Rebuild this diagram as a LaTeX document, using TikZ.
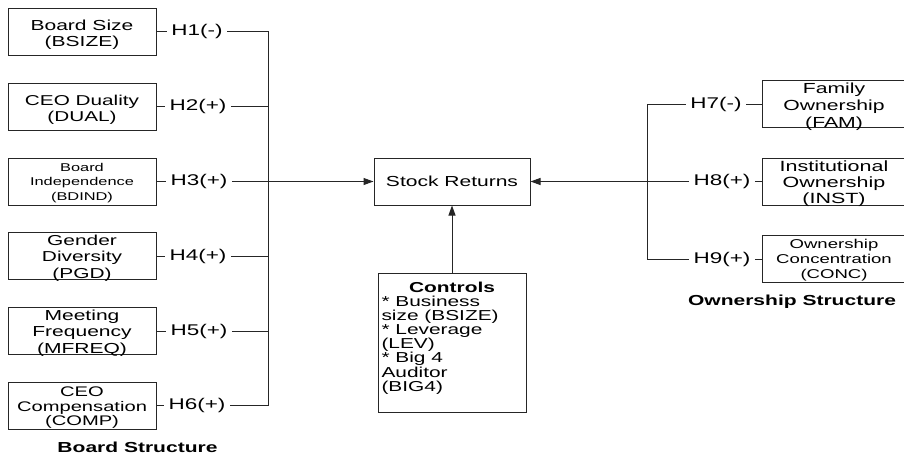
\documentclass[tikz,border=0pt]{standalone}
\usepackage{fontspec}
\setmainfont{Liberation Sans}[FakeStretch=1.45]
\usetikzlibrary{arrows.meta}
\newcommand{\myfs}[2]{\fontsize{#1}{#2}\selectfont}
\begin{document}
\begin{tikzpicture}[x=1pt,y=-1pt,
  line width=1pt,
  ln/.style={draw=black!85},
  bx/.style={draw=black!85, line width=1pt, inner sep=0pt, minimum height=47pt},
  lbox/.style={bx, minimum width=148pt},
  rbox/.style={bx, minimum width=144pt},
  btxt/.style={inner sep=0pt, align=center},
  hyp/.style={inner sep=0pt, inner xsep=4pt, font=\myfs{15.5}{16}},
  head/.style={inner sep=0pt, font=\bfseries\myfs{14.5}{16}},
  arr/.style={ln, -{Triangle[length=10pt,width=7pt]}}]
\clip (0,0) rectangle (904,455);
\useasboundingbox (0,0) rectangle (904,455);

% left boxes
\node[lbox] (bsize) at (82,31.5) {};
\node[lbox] (dual) at (82,106.5) {};
\node[lbox] (bdind) at (82,181.5) {};
\node[lbox] (pgd) at (82,256) {};
\node[lbox] (mfreq) at (82,331) {};
\node[lbox] (comp) at (82,405.5) {};
\node[btxt, font=\myfs{14.5}{16.3}] (bsizet) at (82,35) {Board Size\\(BSIZE)};
\node[btxt, font=\myfs{14.3}{16.7}] (dualt) at (82,109.8) {CEO Duality\\(DUAL)};
\node[btxt, font=\myfs{11.3}{14.7}] (bdindt) at (82,183) {Board\\Independence\\(BDIND)};
\node[btxt, font=\myfs{14.4}{16.3}] (pgdt) at (82,258) {Gender\\Diversity\\(PGD)};
\node[btxt, font=\myfs{14.5}{16.3}] (mfreqt) at (82,333) {Meeting\\Frequency\\(MFREQ)};
\node[btxt, font=\myfs{13.9}{14.7}] (compt) at (82,407.7) {CEO\\Compensation\\(COMP)};

% left hypothesis labels
\node[hyp] (h1) at (197,31.5) {H1(-)};
\node[hyp] (h2) at (198,106.5) {H2(+)};
\node[hyp] (h3) at (199,181.5) {H3(+)};
\node[hyp] (h4) at (198,256) {H4(+)};
\node[hyp] (h5) at (199,331) {H5(+)};
\node[hyp] (h6) at (197,405.5) {H6(+)};

\coordinate (lx) at (268,0);

% central boxes
\node[bx, minimum width=156pt, font=\myfs{14.5}{16}] (stock) at (452,181.5) {Stock Returns};
\node[draw=black!85, line width=1pt, inner sep=0pt, minimum width=148pt, minimum height=139pt] (controls) at (452,342.5) {};
\node[anchor=north west, inner sep=0pt, align=left, font=\myfs{14.4}{14.1}] (ctext) at (381,281.5)
  {\makebox[141pt]{\bfseries Controls}\\{*} Business\\size (BSIZE)\\{*} Leverage\\(LEV)\\{*} Big 4\\Auditor\\(BIG4)};

% right boxes
\node[rbox] (fam) at (834,104) {};
\node[rbox] (inst) at (834,181.5) {};
\node[rbox] (conc) at (834,259) {};
\node[btxt, font=\myfs{14.6}{16.8}] (famt) at (834,106.5) {Family\\Ownership\\(FAM)};
\node[btxt, font=\myfs{14.8}{16.2}] (instt) at (834,183.8) {Institutional\\Ownership\\(INST)};
\node[btxt, font=\myfs{12.8}{15}] (conct) at (834,260.6) {Ownership\\Concentration\\(CONC)};

% right hypothesis labels
\node[hyp] (h7) at (716,104) {H7(-)};
\node[hyp] (h8) at (722,181.5) {H8(+)};
\node[hyp] (h9) at (722,259) {H9(+)};

\coordinate (rx) at (647,0);

% headings
\node[head] (bstruct) at (137.5,447) {Board Structure};
\node[head] (ostruct) at (792,302) {Ownership Structure};

% left connectors
\draw[ln] (bsize.east) -- (h1.west);
\draw[ln] (dual.east) -- (h2.west);
\draw[ln] (bdind.east) -- (h3.west);
\draw[ln] (pgd.east) -- (h4.west);
\draw[ln] (mfreq.east) -- (h5.west);
\draw[ln] (comp.east) -- (h6.west);
\draw[ln] (h1.east) -| (lx |- h6.east) -- (h6.east);
\draw[ln] (h2.east) -- (h2.east -| lx);
\draw[ln] (h3.east) -- (h3.east -| lx);
\draw[ln] (h4.east) -- (h4.east -| lx);
\draw[ln] (h5.east) -- (h5.east -| lx);
\draw[arr] (lx |- stock.west) -- (stock.west);

% right connectors
\draw[ln] (h7.east) -- (fam.west);
\draw[ln] (h8.east) -- (inst.west);
\draw[ln] (h9.east) -- (conc.west);
\draw[ln] (h7.west) -| (rx |- h9.west) -- (h9.west);
\draw[ln] (h8.west) -- (h8.west -| rx);
\draw[arr] (rx |- stock.east) -- (stock.east);

% controls
\draw[arr] (controls.north) -- (stock.south);
\end{tikzpicture}
\end{document}
